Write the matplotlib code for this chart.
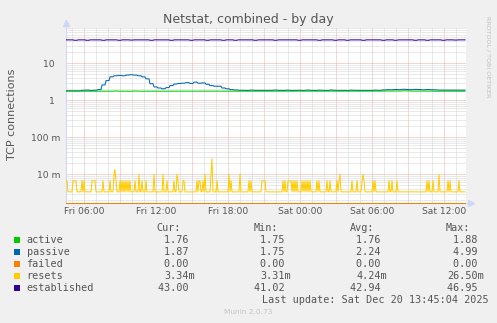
import numpy as np
import matplotlib
matplotlib.use("Agg")
import matplotlib.pyplot as plt
import matplotlib.dates as mdates
import matplotlib.ticker as mticker
from matplotlib.patches import Rectangle
from datetime import datetime, timedelta

# samples: 5 minute steps from Fri 04:30 to Sat 13:50
start = datetime(2025, 12, 19, 4, 30)
n5 = 400

# 20 minute values (100 values)
passive = [1.8, 1.79, 1.81, 1.8, 1.86, 1.88, 1.84, 1.87, 1.95, 2.6,
           3.4, 4.3, 4.6, 4.7, 4.6, 4.8, 4.9, 4.8, 4.6, 4.3,
           3.8, 2.8, 2.3, 2.15, 2.05, 2.2, 2.5, 2.75, 2.85, 2.9,
           3.0, 2.85, 3.1, 2.9, 2.95, 2.7, 2.5, 2.4, 2.4, 2.15,
           2.05, 1.95, 1.9, 1.86, 1.85, 1.84, 1.88, 1.85, 1.86, 1.84,
           1.84, 1.85, 1.89, 1.85, 1.84, 1.87, 1.84, 1.85, 1.86, 1.84,
           1.88, 1.85, 1.84, 1.87, 1.85, 1.84, 1.89, 1.85, 1.86, 1.84,
           1.84, 1.87, 1.85, 1.84, 1.86, 1.85, 1.84, 1.87, 1.85, 1.9,
           1.93, 1.92, 1.96, 1.94, 1.98, 1.96, 1.93, 1.97, 1.95, 1.92,
           1.95, 1.93, 1.91, 1.88, 1.87, 1.89, 1.87, 1.88, 1.87, 1.87]
active = [1.76, 1.76, 1.76, 1.76, 1.76, 1.76, 1.76, 1.76, 1.76, 1.76,
          1.76, 1.76, 1.78, 1.76, 1.76, 1.76, 1.76, 1.78, 1.76, 1.76,
          1.76, 1.76, 1.76, 1.76, 1.76, 1.76, 1.76, 1.76, 1.76, 1.76,
          1.76, 1.76, 1.76, 1.76, 1.76, 1.76, 1.76, 1.76, 1.76, 1.76,
          1.76, 1.76, 1.76, 1.76, 1.77, 1.76, 1.76, 1.76, 1.76, 1.76,
          1.76, 1.76, 1.76, 1.76, 1.76, 1.76, 1.76, 1.76, 1.76, 1.76,
          1.76, 1.76, 1.76, 1.76, 1.76, 1.76, 1.76, 1.76, 1.76, 1.76,
          1.76, 1.76, 1.76, 1.76, 1.76, 1.76, 1.76, 1.76, 1.76, 1.77,
          1.78, 1.78, 1.79, 1.78, 1.8, 1.79, 1.78, 1.78, 1.79, 1.78,
          1.77, 1.77, 1.76, 1.76, 1.76, 1.76, 1.76, 1.76, 1.76, 1.76]
established = [43.0, 43.0, 42.0, 43.0, 43.0, 42.0, 43.0, 43.0, 43.0, 42.0,
               43.0, 43.0, 43.0, 42.0, 43.0, 43.0, 42.5, 43.0, 43.0, 43.0,
               43.0, 42.0, 43.0, 43.0, 43.0, 43.0, 42.0, 43.0, 43.0, 43.0,
               43.0, 42.0, 43.0, 43.0, 43.0, 42.0, 43.0, 43.0, 43.0, 42.0,
               43.0, 43.0, 42.0, 43.0, 43.0, 43.0, 43.0, 42.0, 43.0, 43.0,
               43.0, 43.0, 42.0, 43.0, 43.0, 43.0, 43.0, 43.0, 42.0, 43.0,
               43.0, 43.0, 43.0, 42.0, 43.0, 43.0, 43.0, 42.0, 43.0, 43.0,
               42.0, 43.0, 43.0, 43.0, 42.0, 43.0, 43.0, 43.0, 43.0, 42.0,
               43.0, 43.0, 42.0, 43.0, 43.0, 43.0, 43.0, 42.0, 43.0, 43.0,
               42.0, 43.0, 43.0, 43.0, 42.0, 43.0, 43.0, 42.5, 43.0, 43.0]

# resets per second (milli), 5 minute samples: baseline + spikes at sample index
resets_base = 3.34
resets_spikes = {
    0: 6.67, 1: 6.67, 7: 6.67, 8: 6.67, 9: 6.67, 10: 6.67, 16: 6.67, 18: 6.67,
    26: 6.67, 27: 6.67, 28: 6.67, 29: 6.67, 37: 6.67, 44: 6.67,
    48: 10.0, 49: 13.33, 50: 6.67, 54: 6.67, 56: 6.67, 58: 6.67, 60: 6.67,
    62: 6.67, 64: 6.67, 69: 6.67, 73: 10.0, 76: 6.67, 80: 6.67, 88: 10.0,
    97: 10.0, 101: 6.67, 108: 6.67, 111: 10.0, 112: 6.67, 117: 6.67, 118: 6.67,
    131: 6.67, 133: 6.67, 134: 6.67, 137: 6.67, 139: 10.0,
    145: 10.0, 146: 26.5, 151: 6.67, 163: 10.0, 165: 6.67, 174: 10.0,
    183: 6.67, 185: 6.67, 196: 6.67, 197: 6.67, 198: 6.67, 199: 6.67,
    217: 6.67, 219: 6.67, 222: 6.67, 223: 6.67, 224: 6.67, 225: 6.67,
    227: 6.67, 229: 6.67, 231: 6.67, 236: 6.67, 238: 6.67, 240: 6.67,
    242: 6.67, 244: 6.67, 251: 6.67, 253: 6.67, 261: 6.67, 264: 6.67,
    271: 6.67, 273: 6.67, 274: 10.0, 286: 6.67, 291: 6.67, 296: 6.67,
    297: 10.0, 298: 6.67, 307: 6.67, 309: 6.67, 323: 6.67, 326: 6.67,
    331: 6.67, 361: 6.67, 363: 6.67, 367: 6.67, 373: 10.0, 382: 6.67,
    384: 6.67, 393: 6.67,
}
failed = [0.0] * n5

names = ["active", "passive", "failed", "resets", "established"]
colors = ["#00CC00", "#0066B3", "#FF8000", "#FFCC00", "#330099"]
cur = [1.76, 1.87, 0.0, 3.34e-3, 43.00]
vmin = [1.75, 1.75, 0.0, 3.31e-3, 41.02]
vavg = [1.76, 2.24, 0.0, 4.24e-3, 42.94]
vmax = [1.88, 4.99, 0.0, 26.50e-3, 46.95]

W, H = 497, 323
fg = "#555555"

t5 = [start + timedelta(minutes=5 * i) for i in range(n5)]
resets = np.full(n5, resets_base)
for i, v in resets_spikes.items():
    resets[i] = v
resets = resets / 1000.0


def px(x, y):
    return x / W, 1 - y / H


fig = plt.figure(figsize=(W / 100, H / 100), dpi=100, facecolor="#F0F0F0")
ax = fig.add_axes([66 / W, 1 - 203 / H, 400 / W, 175 / H])
ax.set_facecolor("white")
ymin, ymax = 1.67e-3, 90
ax.set_yscale("log")
ax.set_ylim(ymin, ymax)
ax.set_xlim(start, start + timedelta(minutes=5 * n5))

lw = 0.75
ax.plot(t5, np.repeat(active, 4), color=colors[0], lw=lw, zorder=5)
ax.plot(t5, np.repeat(passive, 4), color=colors[1], lw=lw, zorder=4)
ax.plot(t5, np.clip(failed, ymin, None), color=colors[2], lw=lw, zorder=6, clip_on=False)
ax.plot(t5, resets, color=colors[3], lw=lw, zorder=4)
ax.plot(t5, np.repeat(established, 4), color=colors[4], lw=lw, zorder=4)

# grid
ax.xaxis.set_major_locator(mdates.HourLocator(byhour=range(0, 24, 3)))
ax.xaxis.set_minor_locator(mdates.HourLocator())

def xfmt(x, pos):
    d = mdates.num2date(x)
    return d.strftime("%a %H:%M") if d.hour % 6 == 0 else ""

ax.xaxis.set_major_formatter(mticker.FuncFormatter(xfmt))
ax.yaxis.set_major_locator(mticker.FixedLocator([0.01, 0.1, 1, 10]))
ax.yaxis.set_minor_locator(mticker.LogLocator(base=10, subs=range(2, 10), numticks=20))
ax.yaxis.set_minor_formatter(mticker.NullFormatter())
ax.set_yticklabels(["10 m", "100 m", "1  ", "10  "])
ax.grid(which="minor", color="#d4d4d4", lw=0.72, ls=(0, (1, 1)))
ax.grid(which="major", color="#eeaaaa", lw=0.72, ls=(0, (1, 1)))
ax.set_axisbelow(True)
ax.tick_params(which="both", length=0, labelsize=6.6, labelcolor=fg)
ax.tick_params(axis="x", pad=3.2)
ax.tick_params(axis="y", pad=4.0)

for s in ["top", "right"]:
    ax.spines[s].set_visible(False)
for s in ["left", "bottom"]:
    ax.spines[s].set_color("#CFD6F8")
    ax.spines[s].set_linewidth(0.75)

# axis arrows
ax.plot([0, 0], [1, 1.03], color="#CFD6F8", lw=0.75, transform=ax.transAxes, clip_on=False)
ax.plot([1, 1.012], [0, 0], color="#CFD6F8", lw=0.75, transform=ax.transAxes, clip_on=False)
ax.plot([0], [1.03], marker="^", ms=5, color="#CFD6F8", transform=ax.transAxes, clip_on=False)
ax.plot([1.012], [0], marker=">", ms=5, color="#CFD6F8", transform=ax.transAxes, clip_on=False)

fig.text(*px(248, 19), "Netstat, combined - by day", ha="center", va="center",
         fontsize=9, color=fg)
fig.text(*px(12, 114), "TCP connections", rotation=90, ha="center", va="center",
         fontsize=8, color=fg)
fig.text(*px(488, 57), "RRDTOOL / TOBI OETIKER", rotation=270, ha="center",
         va="center", fontsize=4.6, color="#c0c0c0")
fig.text(*px(248, 312), "Munin 2.0.73", ha="center", va="center",
         fontsize=5.3, color="#c4c4c4")


def fmt(v):
    if v != 0 and abs(v) < 1:
        return "%.2fm" % (v * 1000)
    return "%.2f " % v


mono = dict(family="DejaVu Sans Mono", fontsize=7.3, color=fg, va="center")
for x, h in zip([181, 277.7, 374.3, 470], ["Cur:", "Min:", "Avg:", "Max:"]):
    fig.text(*px(x, 228), h, ha="right", **mono)
for k, name in enumerate(names):
    y = 240 + 12 * k
    fig.add_artist(Rectangle(px(14, y + 3), 6 / W, 6 / H, transform=fig.transFigure,
                             color=colors[k], lw=0))
    fig.text(*px(26.5, y), name, ha="left", **mono)
    for x, vals in zip([194.7, 291, 387, 483.5], [cur, vmin, vavg, vmax]):
        fig.text(*px(x, y), fmt(vals[k]), ha="right", **mono)
fig.text(*px(262, 300), "Last update: Sat Dec 20 13:45:04 2025", ha="left", **mono)

fig.savefig("out.png", dpi=100, facecolor=fig.get_facecolor())
